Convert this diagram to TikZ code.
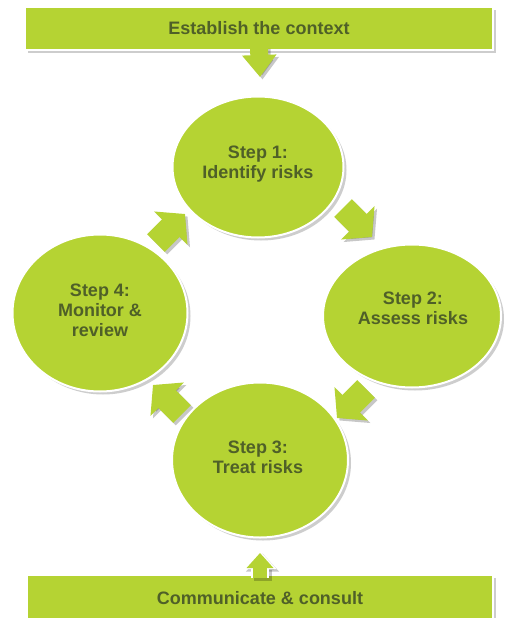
\documentclass[tikz,border=0pt]{standalone}
\usepackage{fontspec}
\setmainfont{Liberation Sans}
\usetikzlibrary{shapes.geometric,arrows.meta,shadows}
\definecolor{limegreen}{RGB}{181,211,51}
\definecolor{darkolive}{RGB}{79,96,40}
\begin{document}
\begin{tikzpicture}[x=1pt,y=-1pt,
  softshadow/.style={drop shadow={shadow xshift=3pt,shadow yshift=-3pt,opacity=0.28,fill=black!70}},
  stepcirc/.style={ellipse,fill=limegreen,draw=white,line width=2pt,inner sep=0pt,softshadow},
  steptext/.style={font=\fontsize{18}{20}\selectfont\bfseries,text=darkolive,align=center,inner sep=0pt},
  banner/.style={rectangle,fill=limegreen,draw=white,line width=1.2pt,inner sep=0pt,softshadow,
    font=\fontsize{18}{20}\selectfont\bfseries,text=darkolive},
  blockarrow/.style={draw=limegreen,line width=25pt,-{Triangle[length=20pt,width=46pt]}},
  blockshadow/.style={draw=black,opacity=0.22,line width=25pt,-{Triangle[length=20pt,width=46pt]},
    transform canvas={shift={(2.5pt,-2.5pt)}}},
  vshaft/.style={draw=limegreen,line width=18pt,-{Triangle[length=22pt,width=33pt]}},
  vshadow/.style={draw=black,opacity=0.22,line width=18pt,-{Triangle[length=22pt,width=33pt]},
    transform canvas={shift={(2.5pt,-2.5pt)}}},
  ushaft/.style={draw=limegreen,line width=14pt,-{Triangle[length=15pt,width=26pt]}},
  uwhite/.style={draw=white,line width=18pt,-{Triangle[length=18pt,width=32pt]}},
  ushadow/.style={draw=black,opacity=0.22,line width=18pt,-{Triangle[length=18pt,width=32pt]},
    transform canvas={shift={(2.5pt,-2.5pt)}}}
]
\useasboundingbox (0,0) rectangle (511,618);
\fill[white] (0,0) rectangle (511,618);

% banners
\node[banner,minimum width=468pt,minimum height=43pt] (ctx) at (259,28.5) {Establish the context};
\node[banner,minimum width=466pt,minimum height=46pt] (comm) at (260,598) {Communicate \& consult};

% circles
\node[stepcirc,minimum width=171pt,minimum height=141pt] (s1) at (258,167) {};
\node[stepcirc,minimum width=178pt,minimum height=143pt] (s2) at (412,316) {};
\node[stepcirc,minimum width=176pt,minimum height=155pt] (s3) at (260,460) {};
\node[stepcirc,minimum width=175pt,minimum height=157pt] (s4) at (100,313) {};

\node[steptext] (t1) at (258,164) {Step 1:\\Identify risks};
\node[steptext] (t2) at (413,308) {Step 2:\\Assess risks};
\node[steptext] (t3) at (258,457) {Step 3:\\Treat risks};
\node[steptext] (t4) at (100,310) {Step 4:\\Monitor \&\\review};

% vertical arrows
\coordinate (toptip) at (260,77);
\coordinate (bottip) at (260,553);
\draw[vshadow] ([yshift=4pt]ctx.south) -- (toptip);
\draw[vshaft] ([yshift=4pt]ctx.south) -- (toptip);
\draw[ushadow] ([yshift=-4pt]comm.north) -- ([yshift=2pt]bottip);
\draw[uwhite] ([yshift=-4pt]comm.north) -- ([yshift=2pt]bottip);
\draw[ushaft] ([yshift=-4pt]comm.north) -- (bottip);

% block arrows between steps
\coordinate (a41s) at (156,243); \coordinate (a41e) at (185,214);
\coordinate (a12s) at (343,208); \coordinate (a12e) at (372,237);
\coordinate (a23s) at (366,389); \coordinate (a23e) at (337,418);
\coordinate (a34s) at (182,414); \coordinate (a34e) at (153,385);
\foreach \p in {a41,a12,a23,a34}{
  \draw[blockshadow] (\p s) -- (\p e);
  \draw[blockarrow] (\p s) -- (\p e);
}
\end{tikzpicture}
\end{document}
